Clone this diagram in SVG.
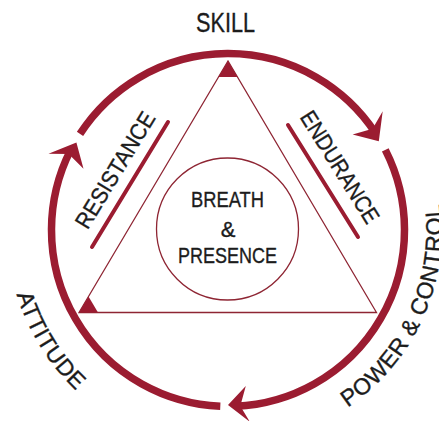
<svg xmlns="http://www.w3.org/2000/svg" width="439" height="421" viewBox="0 0 439 421">
<style>
.arc{fill:none;stroke:#9b1c31;stroke-width:7.5}
.head{fill:#9b1c31}
.thin{fill:none;stroke:#8e2533;stroke-width:1.3}
.bar{stroke:#9b1c31;stroke-width:4;stroke-linecap:round}
.t{font-family:"Liberation Sans",Arial,sans-serif;fill:#1c1c1c;stroke:#1c1c1c;stroke-width:0.35}
</style>
<defs>
<path id="pAtt" d="M16.7 294.6 A221 221 0 0 0 117.5 421.4"/>
<path id="pPow" d="M347.7 407.4 A214 214 0 0 0 429.1 156.8"/>
</defs>
<rect width="439" height="421" fill="#fff"/>
<g id="connectors">
<path class="arc" d="M80.0 133.9 A176.5 176.5 0 0 1 375.2 132.6"/>
<path class="head" d="M378.8 141.2 L382.7 111.3 L372.6 128.8 L352.6 134.4 Z"/>
<path class="arc" d="M385.3 149.9 A176.5 176.5 0 0 1 235.7 406.3"/>
<path class="head" d="M228 405 L245.8 386.0 L240.3 406.1 L249.8 421.8 Z"/>
<path class="arc" d="M220.3 406.3 A176.5 176.5 0 0 1 70.7 149.9"/>
<path class="head" d="M76.4 142.5 L48.5 153.8 L68.7 154.0 L83.5 168.7 Z"/>
</g>
<g id="triangle">
<polygon class="thin" points="228,61 79,312.5 376.5,312.5"/>
<polygon class="head" points="228,61 218.5,77 237.5,77"/>
<polygon class="head" points="79,312.5 98,312.5 88.5,296.5"/>
</g>
<g id="skill"><text class="t" x="225.5" y="32" font-size="27" text-anchor="middle" textLength="59" lengthAdjust="spacingAndGlyphs">SKILL</text></g>
<g id="resistance">
<line class="bar" x1="92" y1="247" x2="168" y2="122"/>
<text class="t" transform="translate(115 170) rotate(-58.7)" x="0" y="8" font-size="23" text-anchor="middle" textLength="132" lengthAdjust="spacingAndGlyphs">RESISTANCE</text>
</g>
<g id="endurance">
<line class="bar" x1="288" y1="125" x2="358" y2="237"/>
<text class="t" transform="translate(340 167) rotate(58)" x="0" y="8" font-size="23" text-anchor="middle" textLength="128" lengthAdjust="spacingAndGlyphs">ENDURANCE</text>
</g>
<g id="center">
<circle class="thin" cx="227.5" cy="229" r="71"/>
<text class="t" x="227.5" y="207" font-size="22" text-anchor="middle" textLength="73" lengthAdjust="spacingAndGlyphs">BREATH</text>
<text class="t" x="228" y="237" font-size="22" text-anchor="middle">&amp;</text>
<text class="t" x="227.5" y="263" font-size="22" text-anchor="middle" textLength="99" lengthAdjust="spacingAndGlyphs">PRESENCE</text>
</g>
<g id="attitude"><text class="t" font-size="23"><textPath href="#pAtt" textLength="114" lengthAdjust="spacing">ATTITUDE</textPath></text></g>
<g id="power"><text class="t" font-size="23"><textPath href="#pPow" textLength="235" lengthAdjust="spacing">POWER &amp; CONTROL</textPath></text></g>
</svg>
